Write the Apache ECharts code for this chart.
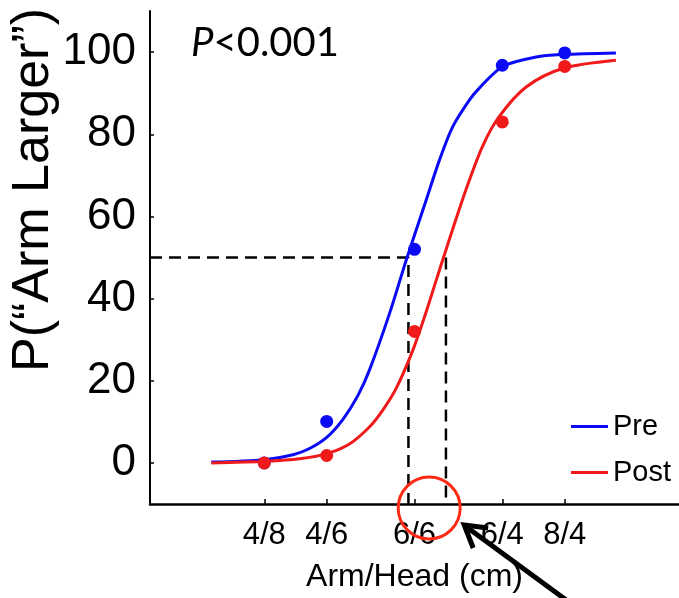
<!DOCTYPE html>
<html>
<head>
<meta charset="utf-8">
<style>
  html, body { margin: 0; padding: 0; background: #fff; }
  #chart { width: 679px; height: 598px; }
</style>
<script src="https://cdn.jsdelivr.net/npm/echarts@6/dist/echarts.min.js"></script>
</head>
<body>
<div id="chart"></div>
<script>
// x axis: ln(arm/head), ticks labelled by ratio
const xLabels = ['4/8', '4/6', '6/6', '6/4', '8/4'];
const xTicks = [-0.693, -0.405, 0, 0.405, 0.693];
const yTicks = [0, 20, 40, 60, 80, 100];

// measured points
const preVals = [0, 10.1, 52.0, 96.8, 99.8];
const postVals = [0, 1.8, 32.0, 83.0, 96.5];

// fitted curves
const preCurveX = [-0.937, -0.691, -0.560, -0.484, -0.405, -0.330, -0.260, -0.207, -0.115, -0.038, 0.054, 0.115, 0.176, 0.253, 0.300, 0.407, 0.561, 0.683, 0.929];
const preCurveY = [0.2, 0.8, 2.0, 3.5, 6.2, 10.6, 16.5, 22.7, 36.4, 49.4, 64.0, 73.7, 81.8, 88.3, 91.3, 96.5, 98.8, 99.4, 99.8];
const postCurveX = [-0.937, -0.683, -0.530, -0.407, -0.300, -0.207, -0.147, -0.084, -0.008, 0.054, 0.130, 0.238, 0.315, 0.392, 0.515, 0.683, 0.929];
const postCurveY = [0.0, 0.4, 1.0, 2.2, 4.6, 8.8, 12.8, 18.2, 27.4, 36.8, 49.4, 66.6, 77.2, 84.4, 91.5, 96.0, 98.0];

// 50% points (PSE) of each curve
const pse = [-0.028, 0.145];
const pseLevel = 50;

const xMin = -1.22, xMax = 1.22;
const yMin = -10, yMax = 110;

const font = '"Liberation Sans", Arial, Helvetica, sans-serif';

function pairs(xs, ys) {
  return xs.map((x, i) => [x, ys[i]]);
}

const chart = echarts.init(document.getElementById('chart'));

const option = {
  backgroundColor: '#fff',
  animation: false,
  title: {
    text: '{i|P}<0.001',
    left: 186,
    top: 18,
    textStyle: {
      fontFamily: 'Lato, "Open Sans", sans-serif',
      fontSize: 40,
      fontWeight: 'normal',
      color: '#000',
      rich: {
        i: { fontStyle: 'italic', fontSize: 40, fontFamily: 'Lato, "Open Sans", sans-serif', color: '#000' }
      }
    }
  },
  legend: {
    data: ['Pre', 'Post'],
    orient: 'vertical',
    left: 566,
    top: 407,
    icon: 'rect',
    itemWidth: 37,
    itemHeight: 3,
    itemGap: 17,
    textStyle: { fontFamily: font, fontSize: 29, color: '#000' }
  },
  grid: { left: 150, right: 0, top: 11, bottom: 94 },
  xAxis: {
    type: 'value',
    min: xMin,
    max: xMax,
    name: 'Arm/Head (cm)',
    nameLocation: 'middle',
    nameGap: 57,
    nameTextStyle: { fontFamily: font, fontSize: 32, color: '#000' },
    axisLine: { onZero: false, lineStyle: { color: '#000', width: 2.5 } },
    axisTick: { inside: true, length: 5, customValues: xTicks, lineStyle: { color: '#000', width: 1.5 } },
    axisLabel: {
      customValues: xTicks,
      margin: 16,
      fontFamily: font,
      fontSize: 31,
      color: '#000',
      formatter: function (v) {
        const i = xTicks.findIndex(t => Math.abs(t - v) < 1e-6);
        return i >= 0 ? xLabels[i] : '';
      }
    },
    splitLine: { show: false }
  },
  yAxis: {
    type: 'value',
    min: yMin,
    max: yMax,
    axisLine: { show: true, onZero: false, lineStyle: { color: '#000', width: 2 } },
    axisTick: { show: true, inside: true, length: 4, customValues: yTicks, lineStyle: { color: '#000', width: 1.5 } },
    axisLabel: {
      customValues: yTicks,
      margin: 14,
      fontFamily: font,
      fontSize: 44,
      color: '#000'
    },
    splitLine: { show: false }
  },
  series: [
    {
      name: 'guide',
      type: 'line',
      data: [[xMin, pseLevel], [pse[0], pseLevel], [pse[0], yMin]],
      showSymbol: false,
      lineStyle: { color: '#000', width: 2.5, type: [12, 7] },
      z: 1,
      silent: true
    },
    {
      name: 'guide2',
      type: 'line',
      data: [[pse[1], pseLevel], [pse[1], yMin]],
      showSymbol: false,
      lineStyle: { color: '#000', width: 2.5, type: [12, 7] },
      z: 1,
      silent: true
    },
    {
      name: 'Pre',
      type: 'line',
      data: pairs(preCurveX, preCurveY),
      smooth: 0.3,
      showSymbol: false,
      color: '#0a0af5',
      lineStyle: { width: 3 },
      z: 2
    },
    {
      name: 'Post',
      type: 'line',
      data: pairs(postCurveX, postCurveY),
      smooth: 0.3,
      showSymbol: false,
      color: '#f01a1a',
      lineStyle: { width: 3 },
      z: 2
    },
    {
      name: 'Pre data',
      type: 'scatter',
      data: pairs(xTicks, preVals),
      symbolSize: 13,
      itemStyle: { color: '#0a0af5', opacity: 1 },
      z: 3
    },
    {
      name: 'Post data',
      type: 'scatter',
      data: pairs(xTicks, postVals),
      symbolSize: 13,
      itemStyle: { color: '#f01a1a', opacity: 1 },
      z: 4
    }
  ]
};

chart.setOption(option);

// annotation: red circle around the two PSE marks, with an arrow
const mid = chart.convertToPixel({ gridIndex: 0 }, [(pse[0] + pse[1]) / 2, yMin]);
const cx = mid[0] + 2, cy = mid[1] + 4;
chart.setOption({
  graphic: [
    {
      type: 'text',
      x: 8,
      y: 372,
      rotation: Math.PI / 2,
      style: {
        text: 'P(“Arm Larger”)',
        fontFamily: font,
        fontSize: 52,
        fill: '#000'
      }
    },
    {
      type: 'circle',
      shape: { cx: cx, cy: cy, r: 31 },
      style: { fill: 'none', stroke: '#ff2a14', lineWidth: 3 },
      z: 100
    },
    {
      type: 'polyline',
      shape: { points: [[cx + 137, 600], [cx + 36, 526]] },
      style: { stroke: '#000', lineWidth: 5, fill: 'none' },
      z: 100
    },
    {
      type: 'polyline',
      shape: { points: [[cx + 59, 528], [cx + 35, 525], [cx + 44, 548]] },
      style: { stroke: '#000', lineWidth: 5, fill: 'none', lineJoin: 'miter' },
      z: 100
    }
  ]
});
</script>
</body>
</html>
